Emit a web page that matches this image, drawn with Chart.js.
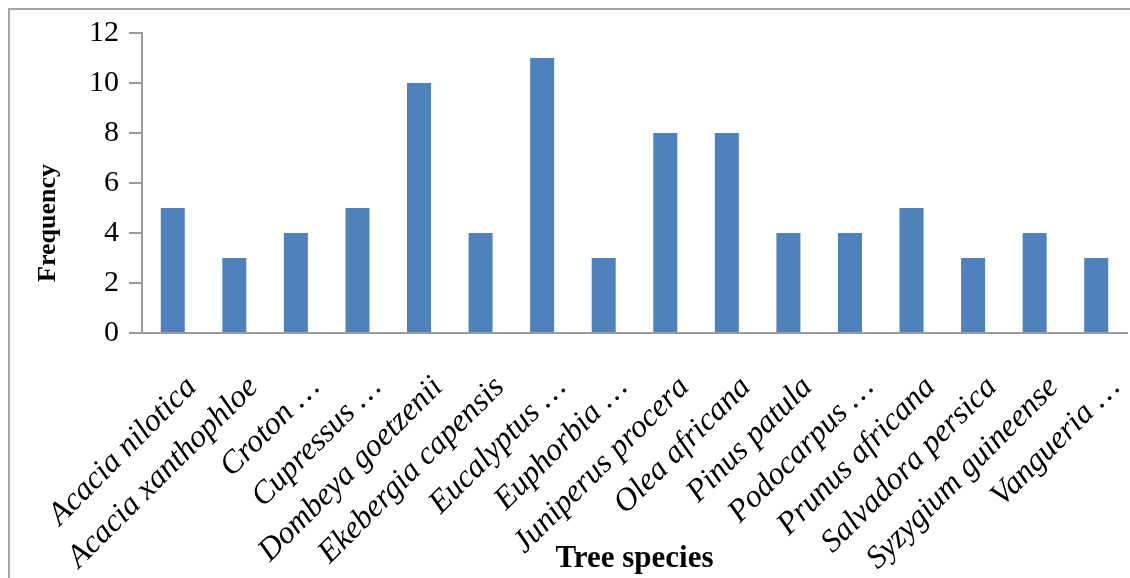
<!DOCTYPE html>
<html><head><meta charset="utf-8">
<script src="https://cdn.jsdelivr.net/npm/chart.js@4/dist/chart.umd.min.js"></script>
<style>
html,body{margin:0;padding:0;background:#fff;overflow:hidden;width:1130px;height:578px}
#frame{position:absolute;left:8px;top:8px;width:1200px;height:700px;border:2px solid #a6a6a6;box-sizing:border-box}
#wrap{position:absolute;left:0;top:0;width:1130px;height:578px}
</style></head><body>
<div id="frame"></div>
<div id="wrap"><canvas id="c" width="1130" height="578"></canvas></div>
<script>
const categories = ["Acacia nilotica","Acacia xanthophloe","Croton \u2026","Cupressus \u2026","Dombeya goetzenii","Ekebergia capensis","Eucalyptus \u2026","Euphorbia \u2026","Juniperus procera","Olea africana","Pinus patula","Podocarpus \u2026","Prunus africana","Salvadora persica","Syzygium guineense","Vangueria \u2026"];
const frequency = [5,3,4,5,10,4,11,3,8,8,4,4,5,3,4,3];
const yTicks = [0,2,4,6,8,10,12];
const xTitle = "Tree species";
const yTitle = "Frequency";

const SERIF = "'Liberation Serif','Times New Roman',serif";
const AXIS = "#9a9a9a";

const yTitlePlugin = {
  id: 'yTitlePlugin',
  afterDraw(chart) {
    const ctx = chart.ctx, a = chart.chartArea;
    ctx.save();
    ctx.translate(48, a.bottom - 110);
    ctx.rotate(-Math.PI/2);
    ctx.font = "bold 26px " + SERIF;
    ctx.fillStyle = "#000";
    ctx.textAlign = "center";
    ctx.textBaseline = "middle";
    ctx.fillText(yTitle, 0, 0);
    ctx.restore();
  }
};

new Chart(document.getElementById('c'), {
  type: 'bar',
  data: {
    labels: categories,
    datasets: [{
      data: frequency,
      backgroundColor: '#4F81BD',
      borderWidth: 0,
      barPercentage: 0.39,
      categoryPercentage: 1.0
    }]
  },
  options: {
    responsive: false,
    animation: false,
    devicePixelRatio: 1,
    layout: { padding: { left: 0, right: 3, top: 33, bottom: 0 } },
    plugins: { legend: { display: false }, tooltip: { enabled: false } },
    scales: {
      x: {
        offset: true,
        grid: { display: false, drawTicks: false },
        border: { display: true, color: AXIS, width: 2 },
        ticks: {
          autoSkip: false, minRotation: 45, maxRotation: 45,
          color: '#000', padding: 36, labelOffset: 19,
          font: { family: SERIF, size: 32, style: 'italic' }
        },
        title: {
          display: true, text: xTitle, color: '#000',
          font: { family: SERIF, size: 31, weight: 'bold' },
          padding: { top: 0, bottom: 0 }
        },
        afterFit(scale) {
          scale.height = 245;
          scale.paddingLeft = 0; scale.paddingRight = 0;
        }
      },
      y: {
        min: yTicks[0], max: yTicks[yTicks.length-1],
        grid: { drawOnChartArea: false, drawTicks: true, tickLength: 13, color: AXIS, lineWidth: 2 },
        border: { display: true, color: AXIS, width: 2 },
        ticks: {
          stepSize: yTicks[1]-yTicks[0], color: '#000', padding: 10,
          font: { family: SERIF, size: 30 }
        },
        afterFit(scale) { scale.width = 142; scale.paddingTop = 0; scale.paddingBottom = 0; }
      }
    }
  },
  plugins: [yTitlePlugin]
});
</script>
</body></html>
